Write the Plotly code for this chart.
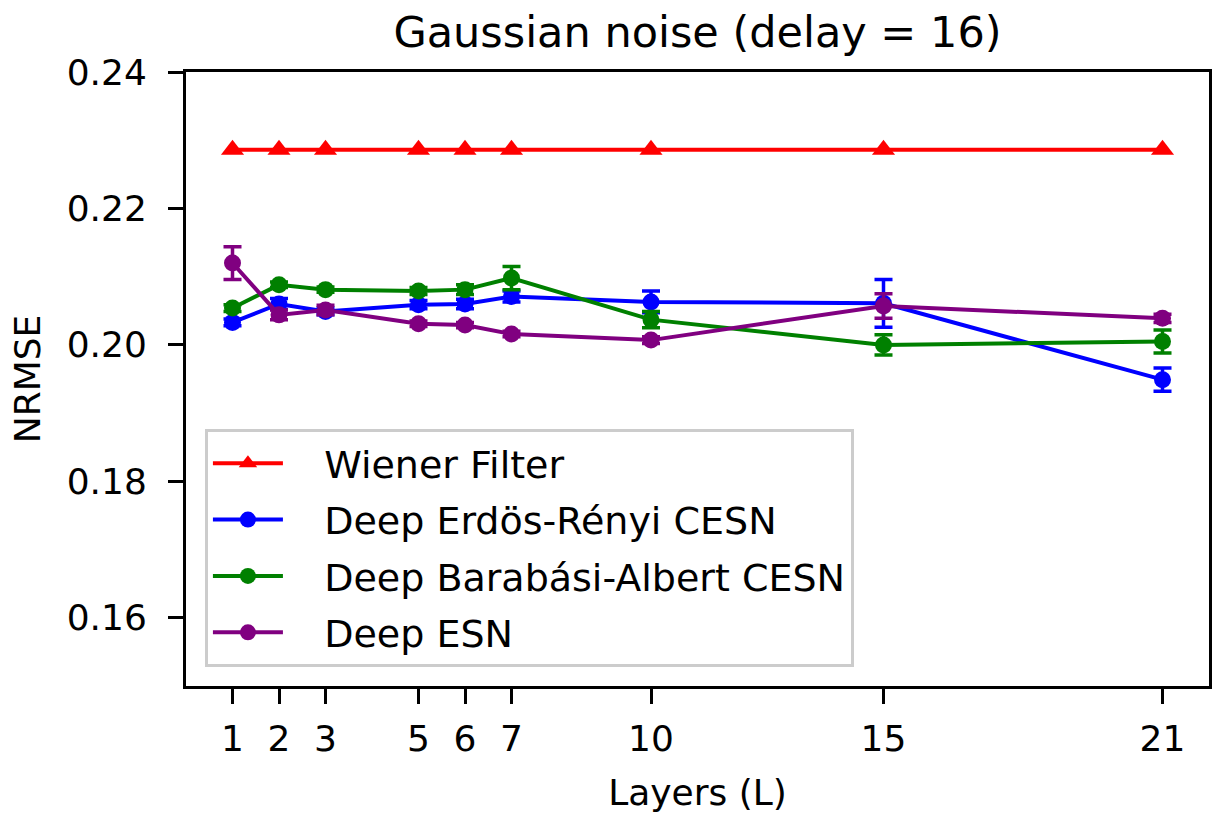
import plotly.graph_objects as go

layers = [1, 2, 3, 5, 6, 7, 10, 15, 21]
wiener = [0.2286, 0.2286, 0.2286, 0.2286, 0.2286, 0.2286, 0.2286, 0.2286, 0.2286]
er_cesn = [0.2033, 0.2060, 0.2049, 0.2059, 0.2060, 0.2071, 0.2063, 0.2061, 0.1949]
er_err = [0.0005, 0.0008, 0.0005, 0.0006, 0.0007, 0.0008, 0.0016, 0.0035, 0.0017]
ba_cesn = [0.2054, 0.2088, 0.2081, 0.2079, 0.2081, 0.2098, 0.2037, 0.2000, 0.2005]
ba_err = [0.0005, 0.0004, 0.0004, 0.0005, 0.0007, 0.0017, 0.0012, 0.0015, 0.0017]
deep_esn = [0.2120, 0.2044, 0.2051, 0.2031, 0.2029, 0.2016, 0.2007, 0.2057, 0.2039]
esn_err = [0.0024, 0.0007, 0.0007, 0.0004, 0.0004, 0.0004, 0.0005, 0.0018, 0.0006]

y_ticks = [0.16, 0.18, 0.20, 0.22, 0.24]
title = "Gaussian noise (delay = 16)"

FONT = "DejaVu Sans"
PAD = "\u00a0\u00a0\u00a0"
fig = go.Figure()

fig.add_trace(go.Scatter(
    x=layers, y=wiener, name=PAD + "Wiener Filter", mode="lines+markers",
    line=dict(color="red", width=4),
    marker=dict(symbol="triangle-up", size=20, color="red"),
    legendgroup="a",
))

series = [
    ("Deep Erdös-Rényi CESN", er_cesn, er_err, "blue", "b"),
    ("Deep Barabási-Albert CESN", ba_cesn, ba_err, "green", "c"),
    ("Deep ESN", deep_esn, esn_err, "purple", "d"),
]
for name, vals, errs, col, grp in series:
    fig.add_trace(go.Scatter(
        x=layers, y=vals, name=PAD + name, mode="lines+markers",
        line=dict(color=col, width=4),
        marker=dict(symbol="circle", size=17, color=col),
        error_y=dict(type="data", array=errs, visible=True,
                     color=col, thickness=3.5, width=9),
        legendgroup=grp,
    ))

axis_common = dict(
    showline=True, linecolor="black", linewidth=3, mirror=True,
    ticks="outside", ticklen=15, tickwidth=3, tickcolor="black",
    showgrid=False, zeroline=False,
    tickfont=dict(family=FONT, size=36, color="black"),
)

fig.update_layout(
    width=1216, height=814,
    margin=dict(l=186, r=4, t=72, b=128),
    paper_bgcolor="white", plot_bgcolor="white",
    font=dict(family=FONT, size=36, color="black"),
    title=dict(text=title, x=0.5, xref="paper", xanchor="center",
               y=1 - 32 / 814, yref="container", yanchor="middle",
               font=dict(family=FONT, size=43, color="black")),
    xaxis=dict(range=[0, 22], tickmode="array", tickvals=layers,
               ticktext=[str(v) for v in layers],
               ticklabelstandoff=4,
               title=dict(text="Layers (L)", standoff=22,
                          font=dict(family=FONT, size=36)),
               **axis_common),
    yaxis=dict(range=[0.15, 0.24], tickmode="array", tickvals=y_ticks,
               ticktext=[f"{v:.2f}" for v in y_ticks],
               ticklabelstandoff=14,
               title=dict(text="NRMSE", standoff=16,
                          font=dict(family=FONT, size=36)),
               **axis_common),
    legend=dict(x=0.0185, y=0.031, xanchor="left", yanchor="bottom",
                bgcolor="rgba(255,255,255,0.8)", bordercolor="#cccccc",
                borderwidth=3, font=dict(family=FONT, size=38),
                tracegroupgap=4, itemwidth=70),
    showlegend=True,
)

fig.write_html("out.html")
